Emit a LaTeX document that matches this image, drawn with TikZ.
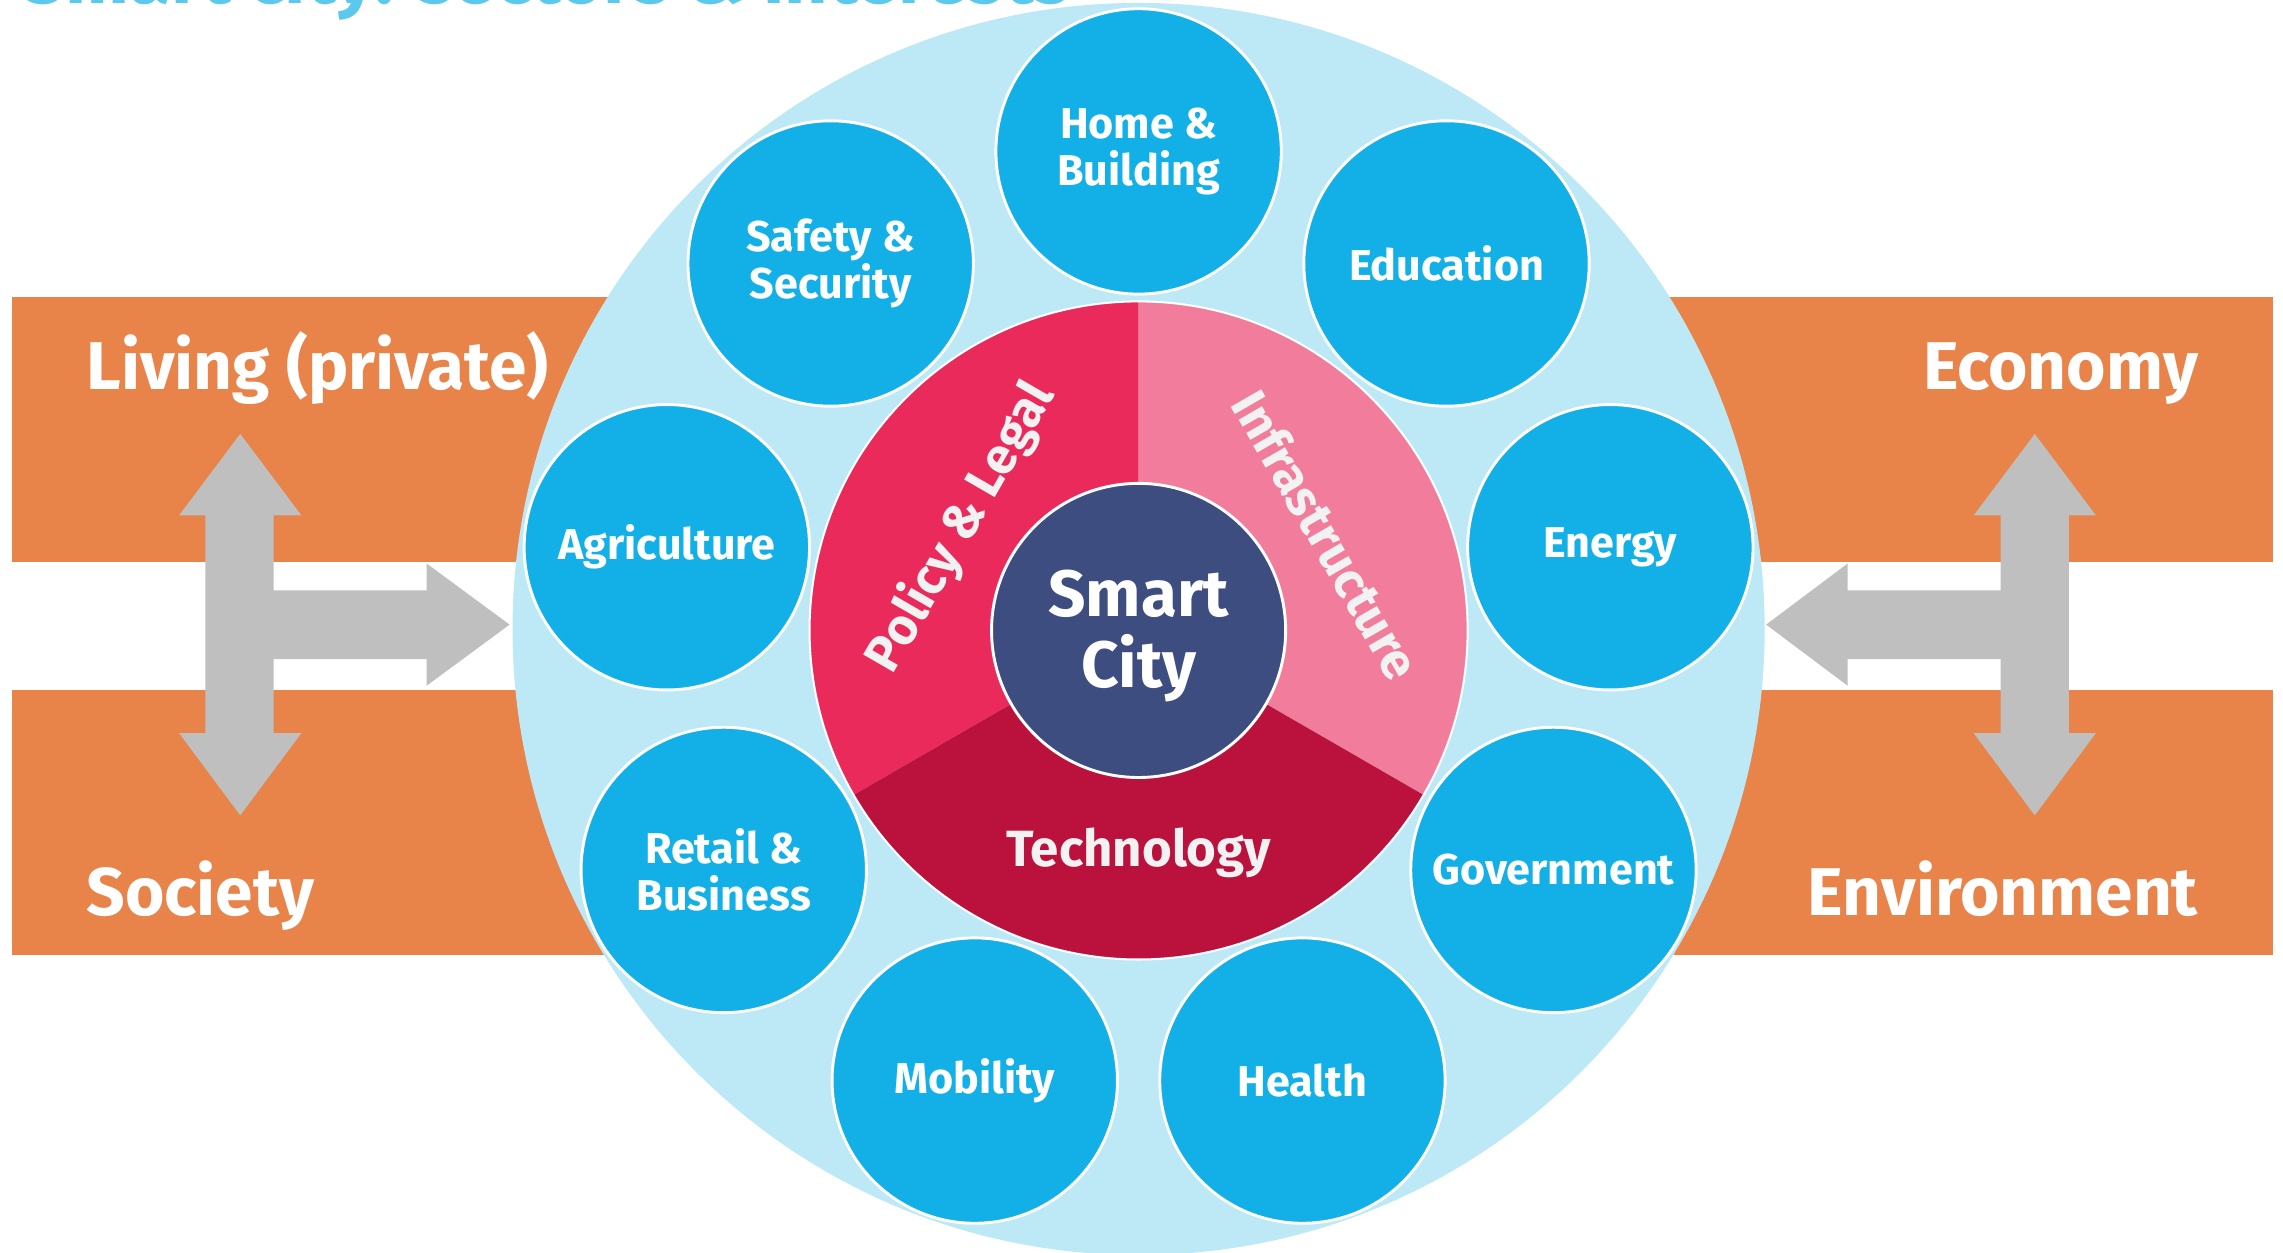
\documentclass[tikz,border=0pt]{standalone}
\usepackage{fontspec}
\setmainfont{Fira Sans}
\usetikzlibrary{calc}
\definecolor{orangeband}{HTML}{E8834A}
\definecolor{ringblue}{HTML}{BDE8F6}
\definecolor{secblue}{HTML}{12B0E6}
\definecolor{policyc}{HTML}{EA2A5B}
\definecolor{infrac}{HTML}{F27C9B}
\definecolor{techc}{HTML}{BA123D}
\definecolor{smartc}{HTML}{3E4D80}
\definecolor{arrowgray}{HTML}{BFBFBF}
\definecolor{titleblue}{HTML}{5BC8ED}
\definecolor{sectxt}{HTML}{F2F2F2}
\begin{document}
\begin{tikzpicture}[x=0.5pt,y=0.5pt,
  biglabel/.style={text=white,inner sep=0pt,font=\bfseries\fontsize{23.2}{26}\selectfont},
  sector/.style={circle,fill=secblue,draw=white,line width=1pt,minimum size=98pt,inner sep=0pt,
    text=white,align=center,font=\bfseries\fontsize{14.8}{16}\selectfont},
  pielabel/.style={text=sectxt,inner sep=0pt,font=\bfseries\fontsize{17.5}{19}\selectfont},
  band/.style={fill=orangeband},
  grayarrow/.style={fill=arrowgray}]
\useasboundingbox (0,0) rectangle (1568,-860);
% title (cut off at top)
\node[anchor=base west,text=titleblue,inner sep=0pt,font=\bfseries\fontsize{26}{28}\selectfont] (title) at (15,-2.3) {Smart city: sectors \& interests};
% orange bands
\fill[band] (8,-204) rectangle (1561,-386);
\fill[band] (8,-474) rectangle (1561,-656);
% left gray arrow
\fill[grayarrow] (165,-298) -- (207,-354) -- (188,-354) -- (188,-405.5) -- (293,-405.5) -- (293,-387)
  -- (350,-429) -- (293,-471) -- (293,-452.7) -- (188,-452.7) -- (188,-503.5) -- (207,-503.5)
  -- (165,-560) -- (123,-503.5) -- (141,-503.5) -- (141,-354) -- (123,-354) -- cycle;
% right gray arrow
\fill[grayarrow] (1397.5,-298) -- (1439.5,-354) -- (1421,-354) -- (1421,-503.5) -- (1439.5,-503.5)
  -- (1397.5,-560) -- (1355.5,-503.5) -- (1374,-503.5) -- (1374,-452.7) -- (1269,-452.7) -- (1269,-471)
  -- (1213,-429) -- (1269,-387) -- (1269,-405.5) -- (1374,-405.5) -- (1374,-354) -- (1355.5,-354) -- cycle;
% band labels
\node[biglabel,anchor=base west] (living) at (59,-267.5) {Living (private)};
\node[biglabel,anchor=base west] (society) at (59,-629) {Society};
\node[biglabel,anchor=base east] (economy) at (1510,-267.5) {Economy};
\node[biglabel,anchor=base east] (environment) at (1510,-629) {Environment};
% big ring
\node[circle,fill=ringblue,minimum size=430pt,inner sep=0pt] (ring) at (782,-432) {};
\coordinate (C) at (782,-433);
% sector circles
\foreach \a/\n/\t in {90/home/{Home \&\\Building},50/edu/{Education},10/energy/{Energy},
  -30/gov/{Government},-70/health/{Health},-110/mob/{Mobility},210/retail/{Retail \&\\Business},
  170/agri/{Agriculture},130/safety/{Safety \&\\Security}}
  \node[sector] (\n) at ($(C)+(\a:329)$) {\t};
% pie
\fill[policyc] (C) -- ($(C)+(90:226)$) arc[start angle=90,end angle=210,radius=226] -- cycle;
\fill[infrac] (C) -- ($(C)+(-30:226)$) arc[start angle=-30,end angle=90,radius=226] -- cycle;
\fill[techc] (C) -- ($(C)+(210:226)$) arc[start angle=210,end angle=330,radius=226] -- cycle;
\draw[white,line width=0.7pt] (C) circle (226);
\node[pielabel,rotate=60] (policy) at ($(C)+(150:141)$) {Policy \& Legal};
\node[pielabel,rotate=-60] (infra) at ($(C)+(27:145)$) {Infrastructure};
\node[pielabel] (tech) at ($(C)+(270:153)$) {Technology};
% center
\node[circle,fill=smartc,draw=white,line width=1pt,minimum size=101pt,inner sep=0pt] (smart) at (C) {};
\node[text=white,align=center,inner sep=0pt,font=\bfseries\fontsize{22.5}{24.5}\selectfont] (smarttxt) at ($(C)+(0,-4)$) {Smart\\City};
\end{tikzpicture}
\end{document}
